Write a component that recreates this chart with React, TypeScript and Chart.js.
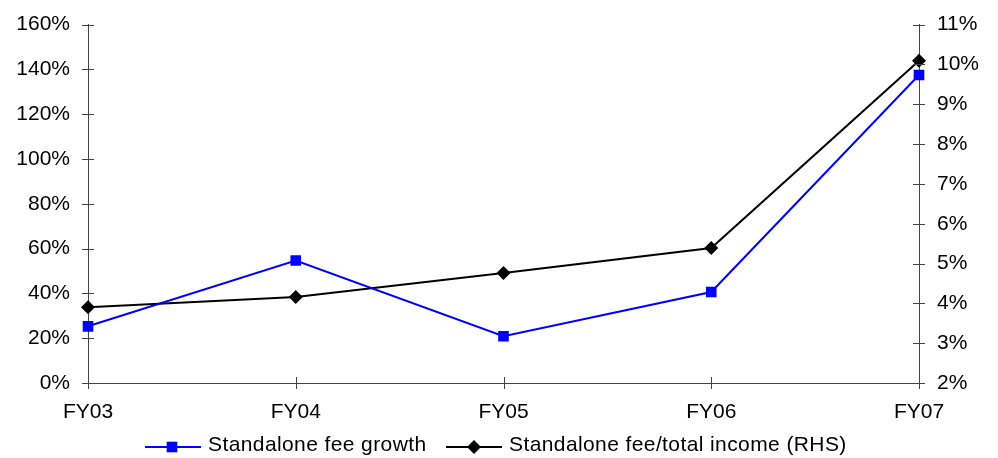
import React, { useEffect, useRef } from "react";
import { Chart, registerables } from "chart.js";

Chart.register(...registerables);

const categories = ["FY03", "FY04", "FY05", "FY06", "FY07"];
const feeGrowth = [25.3, 54.7, 20.9, 40.6, 137.5]; // %
const feeShare = [3.9, 4.16, 4.76, 5.39, 10.09]; // % (RHS)
const seriesNames = ["Standalone fee growth", "Standalone fee/total income (RHS)"];

const FONT = "Liberation Sans, Arial, sans-serif";
const AXIS_COLOR = "#444";

// Tick marks that cross the axis line
const crossTicks = {
  id: "crossTicks",
  afterDraw(chart: any) {
    const { ctx, chartArea } = chart;
    const y = chart.scales.y;
    const y1 = chart.scales.y1;
    const x = chart.scales.x;
    ctx.save();
    ctx.strokeStyle = AXIS_COLOR;
    ctx.lineWidth = 1;
    ctx.beginPath();
    y.ticks.forEach((_t: any, i: number) => {
      const py = Math.round(y.getPixelForTick(i)) + 0.5;
      ctx.moveTo(chartArea.left - 6, py);
      ctx.lineTo(chartArea.left + 6, py);
    });
    y1.ticks.forEach((_t: any, i: number) => {
      const py = Math.round(y1.getPixelForTick(i)) + 0.5;
      ctx.moveTo(chartArea.right - 6, py);
      ctx.lineTo(chartArea.right + 6, py);
    });
    x.ticks.forEach((_t: any, i: number) => {
      const px = Math.round(x.getPixelForTick(i)) + 0.5;
      ctx.moveTo(px, chartArea.bottom - 6);
      ctx.lineTo(px, chartArea.bottom + 6);
    });
    ctx.stroke();
    ctx.restore();
  },
};

// Legend: line segment with marker, then label
const lineLegend = {
  id: "lineLegend",
  afterDraw(chart: any) {
    const { ctx } = chart;
    const items = [
      { x: 145, color: "#0000ff", style: "rect", r: 7.5, label: seriesNames[0] },
      { x: 446, color: "#000000", style: "rectRot", r: 7, label: seriesNames[1] },
    ];
    const cy = 447;
    ctx.save();
    ctx.font = `21px ${FONT}`;
    (ctx as any).letterSpacing = "0.4px";
    ctx.textBaseline = "alphabetic";
    items.forEach((it) => {
      ctx.strokeStyle = it.color;
      ctx.lineWidth = 2;
      ctx.beginPath();
      ctx.moveTo(it.x, cy);
      ctx.lineTo(it.x + 56, cy);
      ctx.stroke();
      ctx.fillStyle = it.color;
      ctx.beginPath();
      if (it.style === "rect") {
        const s = it.r * Math.SQRT1_2;
        ctx.rect(it.x + 27 - s, cy - s, 2 * s, 2 * s);
      } else {
        const c = it.x + 28;
        ctx.moveTo(c - it.r, cy);
        ctx.lineTo(c, cy - it.r);
        ctx.lineTo(c + it.r, cy);
        ctx.lineTo(c, cy + it.r);
        ctx.closePath();
      }
      ctx.fill();
      ctx.fillStyle = "#000";
      ctx.fillText(it.label, it.x + 63, 451);
    });
    ctx.restore();
  },
};

export default function App() {
  const ref = useRef<HTMLCanvasElement>(null);

  useEffect(() => {
    if (!ref.current) return;
    const tickFont = { family: FONT, size: 21 };
    const chart = new Chart(ref.current, {
      type: "line",
      data: {
        labels: categories,
        datasets: [
          {
            label: seriesNames[0],
            data: feeGrowth,
            borderColor: "#0000ff",
            backgroundColor: "#0000ff",
            borderWidth: 2,
            pointStyle: "rect",
            pointRadius: 7.5,
            pointBorderWidth: 0,
            yAxisID: "y",
            tension: 0,
          },
          {
            label: seriesNames[1],
            data: feeShare,
            borderColor: "#000000",
            backgroundColor: "#000000",
            borderWidth: 2,
            pointStyle: "rectRot",
            pointRadius: 7,
            pointBorderWidth: 0,
            yAxisID: "y1",
            tension: 0,
          },
        ],
      },
      options: {
        animation: false,
        responsive: false,
        devicePixelRatio: 1,
        layout: { padding: { top: 17, bottom: 25, left: 0, right: 0 } },
        plugins: { legend: { display: false }, tooltip: { enabled: false } },
        scales: {
          x: {
            offset: false,
            grid: { display: false, tickLength: 6 },
            border: { color: AXIS_COLOR },
            ticks: { color: "#000", font: tickFont, padding: 11, maxRotation: 0 },
            afterFit: (s: any) => { s.height = 50; },
          },
          y: {
            position: "left",
            min: 0,
            max: 160,
            grid: { display: false, tickLength: 6 },
            border: { color: AXIS_COLOR },
            ticks: { stepSize: 20, color: "#000", font: tickFont, padding: 12, callback: (v: any) => `${v}%` },
            afterFit: (s: any) => { s.width = 88; },
          },
          y1: {
            position: "right",
            min: 2,
            max: 11,
            grid: { display: false, tickLength: 6 },
            border: { color: AXIS_COLOR },
            ticks: { stepSize: 1, color: "#000", font: tickFont, padding: 12, callback: (v: any) => `${v}%` },
            afterFit: (s: any) => { s.width = 79; },
          },
        },
      },
      plugins: [crossTicks, lineLegend],
    });
    return () => chart.destroy();
  }, []);

  return (
    <div style={{ position: "absolute", left: 0, top: 0, width: 998, height: 458, background: "#fff" }}>
      <canvas ref={ref} width={998} height={458} style={{ width: 998, height: 458 }} />
    </div>
  );
}
